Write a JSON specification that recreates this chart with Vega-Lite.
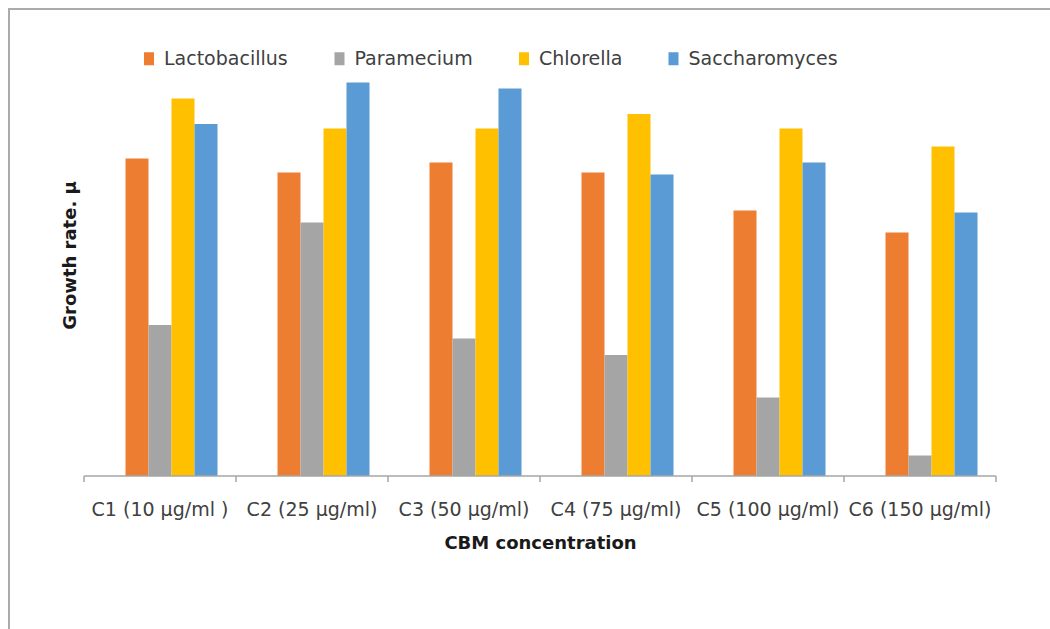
{
  "$schema": "https://vega.github.io/schema/vega-lite/v6.json",
  "width": 1080,
  "height": 640,
  "autosize": {"type": "none"},
  "padding": {"left": 9, "top": 9, "right": 0, "bottom": 0},
  "background": "white",
  "config": {
    "view": {"stroke": "#ababab", "strokeWidth": 2},
    "font": "DejaVu Sans"
  },
  "datasets": {
    "growth": [
      {"conc": "C1 (10 μg/ml )", "species": "Lactobacillus", "value": 0.635},
      {"conc": "C1 (10 μg/ml )", "species": "Paramecium", "value": 0.302},
      {"conc": "C1 (10 μg/ml )", "species": "Chlorella", "value": 0.755},
      {"conc": "C1 (10 μg/ml )", "species": "Saccharomyces", "value": 0.704},
      {"conc": "C2 (25 μg/ml)", "species": "Lactobacillus", "value": 0.607},
      {"conc": "C2 (25 μg/ml)", "species": "Paramecium", "value": 0.507},
      {"conc": "C2 (25 μg/ml)", "species": "Chlorella", "value": 0.695},
      {"conc": "C2 (25 μg/ml)", "species": "Saccharomyces", "value": 0.787},
      {"conc": "C3 (50 μg/ml)", "species": "Lactobacillus", "value": 0.627},
      {"conc": "C3 (50 μg/ml)", "species": "Paramecium", "value": 0.275},
      {"conc": "C3 (50 μg/ml)", "species": "Chlorella", "value": 0.695},
      {"conc": "C3 (50 μg/ml)", "species": "Saccharomyces", "value": 0.775},
      {"conc": "C4 (75 μg/ml)", "species": "Lactobacillus", "value": 0.607},
      {"conc": "C4 (75 μg/ml)", "species": "Paramecium", "value": 0.242},
      {"conc": "C4 (75 μg/ml)", "species": "Chlorella", "value": 0.724},
      {"conc": "C4 (75 μg/ml)", "species": "Saccharomyces", "value": 0.603},
      {"conc": "C5 (100 μg/ml)", "species": "Lactobacillus", "value": 0.531},
      {"conc": "C5 (100 μg/ml)", "species": "Paramecium", "value": 0.157},
      {"conc": "C5 (100 μg/ml)", "species": "Chlorella", "value": 0.695},
      {"conc": "C5 (100 μg/ml)", "species": "Saccharomyces", "value": 0.627},
      {"conc": "C6 (150 μg/ml)", "species": "Lactobacillus", "value": 0.487},
      {"conc": "C6 (150 μg/ml)", "species": "Paramecium", "value": 0.041},
      {"conc": "C6 (150 μg/ml)", "species": "Chlorella", "value": 0.659},
      {"conc": "C6 (150 μg/ml)", "species": "Saccharomyces", "value": 0.527}
    ],
    "cats": [
      {"conc": "C1 (10 μg/ml )"},
      {"conc": "C2 (25 μg/ml)"},
      {"conc": "C3 (50 μg/ml)"},
      {"conc": "C4 (75 μg/ml)"},
      {"conc": "C5 (100 μg/ml)"},
      {"conc": "C6 (150 μg/ml)"}
    ]
  },
  "layer": [
    {
      "data": {"name": "growth"},
      "mark": {"type": "bar"},
      "encoding": {
        "x": {
          "field": "conc",
          "type": "nominal",
          "sort": null,
          "title": "CBM concentration",
          "scale": {
            "domain": ["C1 (10 μg/ml )", "C2 (25 μg/ml)", "C3 (50 μg/ml)", "C4 (75 μg/ml)", "C5 (100 μg/ml)", "C6 (150 μg/ml)"],
            "range": [75, 987],
            "paddingInner": 0,
            "paddingOuter": 0
          },
          "axis": {
            "orient": "bottom",
            "offset": -173,
            "domain": false,
            "ticks": false,
            "tickSize": 0,
            "grid": false,
            "labelAngle": 0,
            "labelFont": "DejaVu Sans",
            "labelFontSize": 19,
            "labelColor": "#404040",
            "labelBaseline": "alphabetic",
            "labelPadding": 39,
            "titleFont": "DejaVu Sans",
            "titleFontSize": 18,
            "titleFontWeight": "bold",
            "titleColor": "#1a1a1a",
            "titleBaseline": "alphabetic",
            "titleY": 72
          }
        },
        "xOffset": {
          "field": "species",
          "type": "nominal",
          "scale": {
            "domain": ["_", "Lactobacillus", "Paramecium", "Chlorella", "Saccharomyces"],
            "paddingInner": 0,
            "paddingOuter": 0.804
          }
        },
        "y": {
          "field": "value",
          "type": "quantitative",
          "title": "Growth rate. μ",
          "scale": {"domain": [-0.346, 0.934], "nice": false, "zero": false},
          "axis": {
            "orient": "left",
            "domain": false,
            "ticks": false,
            "labels": false,
            "grid": false,
            "titleFont": "DejaVu Sans",
            "titleFontSize": 18,
            "titleFontWeight": "bold",
            "titleColor": "#1a1a1a",
            "titleAngle": -90,
            "titleAlign": "center",
            "titleBaseline": "middle",
            "titleX": 61,
            "titleY": 246
          }
        },
        "color": {
          "field": "species",
          "type": "nominal",
          "scale": {
            "domain": ["Lactobacillus", "Paramecium", "Chlorella", "Saccharomyces"],
            "range": ["#ED7D31", "#A5A5A5", "#FFC000", "#5B9BD5"]
          },
          "legend": {
            "title": null,
            "orient": "none",
            "direction": "horizontal",
            "legendX": 130.5,
            "legendY": 40,
            "padding": 0,
            "symbolType": "M-0.77,-1H0.77V1H-0.77Z",
            "symbolSize": 169,
            "symbolStrokeWidth": 0,
            "labelFont": "DejaVu Sans",
            "labelFontSize": 19,
            "labelColor": "#404040",
            "labelOffset": 5.5,
            "columnPadding": 41.5
          }
        }
      }
    },
    {
      "data": {"name": "cats"},
      "mark": {"type": "rule", "color": "#a6a6a6", "strokeWidth": 1.5},
      "encoding": {
        "x": {"field": "conc", "type": "nominal", "sort": null, "bandPosition": 0, "title": "CBM concentration"},
        "x2": {"field": "conc", "bandPosition": 1},
        "y": {"datum": 0, "type": "quantitative", "title": "Growth rate. μ"}
      }
    },
    {
      "data": {"name": "cats"},
      "mark": {"type": "rule", "color": "#a6a6a6", "strokeWidth": 1.5},
      "encoding": {
        "x": {"field": "conc", "type": "nominal", "sort": null, "bandPosition": 0, "title": "CBM concentration"},
        "y": {"datum": 0, "type": "quantitative", "title": "Growth rate. μ"},
        "y2": {"datum": -0.012}
      }
    },
    {
      "data": {"name": "cats"},
      "transform": [{"filter": "datum.conc == 'C6 (150 μg/ml)'"}],
      "mark": {"type": "rule", "color": "#a6a6a6", "strokeWidth": 1.5},
      "encoding": {
        "x": {"field": "conc", "type": "nominal", "sort": null, "bandPosition": 1, "title": "CBM concentration"},
        "y": {"datum": 0, "type": "quantitative", "title": "Growth rate. μ"},
        "y2": {"datum": -0.012}
      }
    }
  ]
}
